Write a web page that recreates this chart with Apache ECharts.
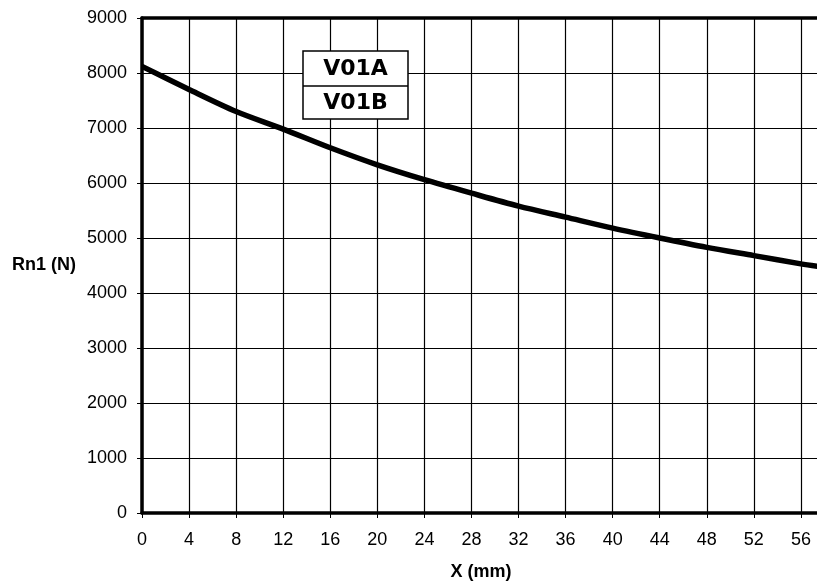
<!DOCTYPE html>
<html>
<head>
<meta charset="utf-8">
<script src="https://cdn.jsdelivr.net/npm/echarts@6/dist/echarts.min.js"></script>
<style>html,body{margin:0;padding:0;background:#fff;}#c{width:817px;height:583px;}</style>
</head>
<body>
<div id="c"></div>
<script>
const xValues = [0, 4, 8, 12, 16, 20, 24, 28, 32, 36, 40, 44, 48, 52, 56, 57.6];
const rn1Values = [8120, 7700, 7300, 6980, 6640, 6330, 6060, 5815, 5580, 5380, 5180, 5000, 4830, 4680, 4530, 4480];
const legendLabels = ['V01A', 'V01B'];
const xName = 'X (mm)';
const yName = 'Rn1 (N)';

const chart = echarts.init(document.getElementById('c'), null, {renderer: 'canvas'});
const font = 'Liberation Sans, Arial, sans-serif';
chart.setOption({
  animation: false,
  backgroundColor: '#fff',
  grid: {left: 142, right: -3, top: 18, bottom: 70, containLabel: false, outerBoundsMode: 'none'},
  xAxis: [{
    type: 'value', min: 0, max: 57.62, interval: 4, position: 'bottom',
    name: xName, nameLocation: 'middle', nameGap: 50,
    nameTextStyle: {fontFamily: font, fontSize: 18, fontWeight: 'bold', color: '#000', padding: [0, 0, 0, 0]},
    axisLine: {show: true, onZero: false, lineStyle: {color: '#000', width: 3.5}},
    axisTick: {show: true, length: 5, lineStyle: {color: '#000', width: 1}},
    axisLabel: {fontFamily: font, fontSize: 18, color: '#000', margin: 18, showMaxLabel: false,
      formatter: v => (v % 4 === 0 ? String(v) : '')},
    splitLine: {show: true, showMaxLine: false, lineStyle: {color: '#000', width: 1.2}}
  }, {
    type: 'value', min: 0, max: 57.62, interval: 4, position: 'top',
    axisLine: {show: true, onZero: false, lineStyle: {color: '#000', width: 3.5}},
    axisTick: {show: false}, axisLabel: {show: false}, splitLine: {show: false}
  }],
  yAxis: {
    type: 'value', min: 0, max: 9000, interval: 1000,
    name: yName, nameLocation: 'middle', nameGap: 66, nameRotate: 0,
    nameTextStyle: {fontFamily: font, fontSize: 18, fontWeight: 'bold', color: '#000'},
    axisLine: {show: true, lineStyle: {color: '#000', width: 3.5}},
    axisTick: {show: true, length: 5, lineStyle: {color: '#000', width: 1}},
    axisLabel: {fontFamily: font, fontSize: 18, color: '#000', margin: 15, formatter: v => String(v)},
    splitLine: {show: true, lineStyle: {color: '#000', width: 1.2}}
  },
  series: [{
    type: 'line', xAxisIndex: 0,
    data: xValues.map((x, i) => [x, rn1Values[i]]),
    showSymbol: false, smooth: 0.3,
    lineStyle: {color: '#000', width: 5.5}
  }],
  graphic: [
    {type: 'rect', shape: {x: 303, y: 51, width: 105, height: 68}, style: {fill: '#fff', stroke: '#000', lineWidth: 1.5}, z: 100},
    {type: 'line', shape: {x1: 303, y1: 86, x2: 408, y2: 86}, style: {stroke: '#000', lineWidth: 1.5}, z: 101},
    {type: 'text', x: 355.5, y: 69, style: {text: legendLabels[0], fontFamily: 'DejaVu Sans', fontWeight: 'bold', fontSize: 22, fill: '#000', align: 'center', verticalAlign: 'middle'}, z: 102},
    {type: 'text', x: 355.5, y: 103, style: {text: legendLabels[1], fontFamily: 'DejaVu Sans', fontWeight: 'bold', fontSize: 22, fill: '#000', align: 'center', verticalAlign: 'middle'}, z: 102}
  ]
});
</script>
</body>
</html>
